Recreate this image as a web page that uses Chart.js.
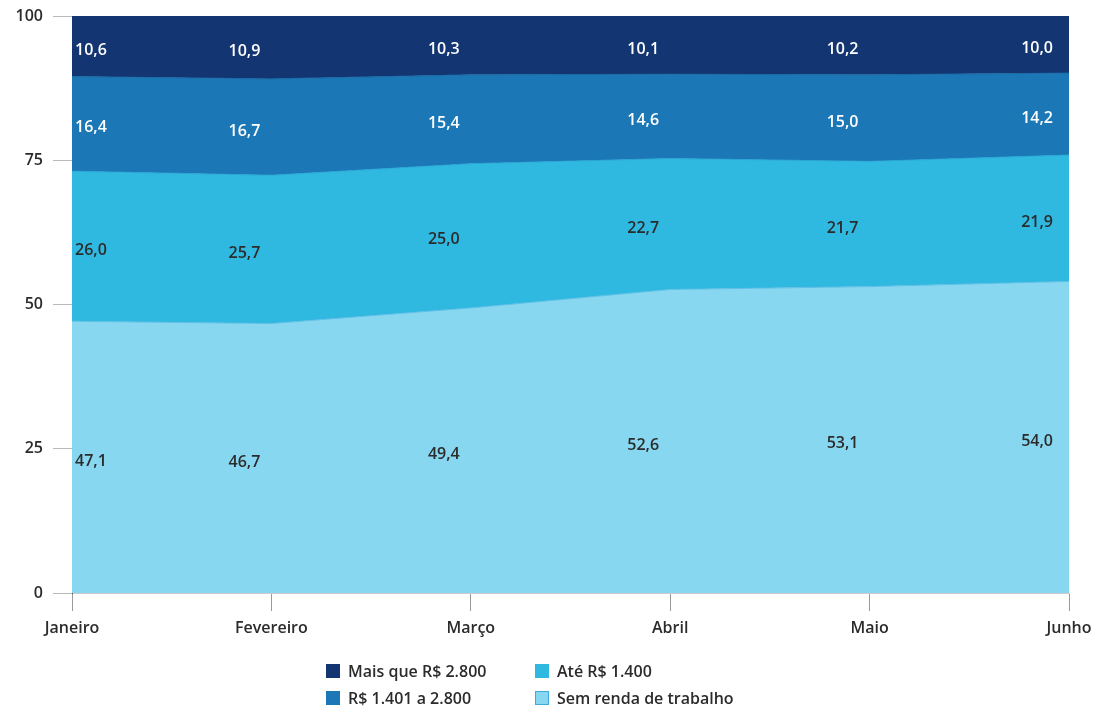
<!DOCTYPE html>
<html>
<head>
<meta charset="utf-8">
<script src="https://cdn.jsdelivr.net/npm/chart.js@4"></script>
<style>
  body { margin: 0; background: #fff; font-family: "Open Sans", sans-serif; }
  #wrap { position: relative; width: 1095px; height: 714px; }
  #legenda { position: absolute; left: 326px; top: 660px; display: grid; grid-template-columns: 209px 220px; row-gap: 5px; font-size: 16px; font-weight: 600; color: #2b2b2b; }
  #legenda span.item { display: flex; align-items: center; }
  #legenda i { display: inline-block; width: 14px; height: 14px; margin-right: 8px; box-sizing: border-box; }
</style>
</head>
<body>
<div id="wrap">
  <canvas id="grafico" width="1095" height="714"></canvas>
  <div id="legenda"></div>
</div>
<script>
const meses = ['Janeiro', 'Fevereiro', 'Março', 'Abril', 'Maio', 'Junho'];
const semRenda = [47.1, 46.7, 49.4, 52.6, 53.1, 54.0];
const ate1400 = [26.0, 25.7, 25.0, 22.7, 21.7, 21.9];
const de1401a2800 = [16.4, 16.7, 15.4, 14.6, 15.0, 14.2];
const maisQue2800 = [10.6, 10.9, 10.3, 10.1, 10.2, 10.0];
const ticksY = [0, 25, 50, 75, 100];

const series = [
  { label: 'Sem renda de trabalho', data: semRenda, cor: '#88d7f0', linha: '#5fbfe6', texto: '#2b2b2b' },
  { label: 'Até R$ 1.400', data: ate1400, cor: '#2fb9e0', linha: '#2aa6d6', texto: '#2b2b2b' },
  { label: 'R$ 1.401 a 2.800', data: de1401a2800, cor: '#1b77b5', linha: '#1a6aa6', texto: '#ffffff' },
  { label: 'Mais que R$ 2.800', data: maisQue2800, cor: '#133672', linha: '#133672', texto: '#ffffff' }
];

// rotulos no meio de cada faixa
const rotulos = {
  id: 'rotulos',
  afterDatasetsDraw(chart) {
    const ctx = chart.ctx;
    const base = chart.scales.y.getPixelForValue(0);
    ctx.save();
    ctx.textBaseline = 'middle';
    ctx.font = '600 16px "Open Sans"';
    chart.data.datasets.forEach((ds, i) => {
      const meta = chart.getDatasetMeta(i);
      const abaixo = i > 0 ? chart.getDatasetMeta(i - 1) : null;
      meta.data.forEach((pt, j) => {
        const y0 = abaixo ? abaixo.data[j].y : base;
        const y = (pt.y + y0) / 2 + 4;
        let x = pt.x;
        if (j === 0) { ctx.textAlign = 'left'; x += 3; }
        else if (j === meta.data.length - 1) { ctx.textAlign = 'right'; x -= 16; }
        else { ctx.textAlign = 'center'; x -= 27; }
        ctx.fillStyle = series[i].texto;
        ctx.fillText(ds.data[j].toFixed(1).replace('.', ','), x, y);
      });
    });
    ctx.restore();
  }
};

new Chart(document.getElementById('grafico'), {
  type: 'line',
  data: {
    labels: meses,
    datasets: series.map((s, i) => ({
      label: s.label,
      data: s.data,
      backgroundColor: s.cor,
      borderColor: s.linha,
      borderWidth: 1,
      pointRadius: 0,
      tension: 0,
      fill: i === 0 ? 'origin' : '-1'
    }))
  },
  options: {
    responsive: false,
    animation: false,
    layout: { padding: { top: 16, left: 0, right: 26, bottom: 71 } },
    scales: {
      x: {
        offset: false,
        grid: { color: '#999', tickLength: 18, drawOnChartArea: false },
        border: { color: '#ccc' },
        ticks: { color: '#2b2b2b', font: { family: 'Open Sans', size: 16, weight: '600' }, padding: 8, maxRotation: 0 },
        afterFit: s => { s.height = 50; s.paddingLeft = 0; s.paddingRight = 0; }
      },
      y: {
        stacked: true,
        min: 0,
        max: 100,
        afterBuildTicks: s => { s.ticks = ticksY.map(v => ({ value: v })); },
        grid: { color: '#bbb', tickLength: 19 },
        border: { color: '#555' },
        ticks: { color: '#2b2b2b', font: { family: 'Open Sans', size: 16, weight: '600' }, padding: 10 },
        afterFit: s => { s.width = 72; s.paddingTop = 0; s.paddingBottom = 0; }
      }
    },
    plugins: {
      legend: { display: false },
      tooltip: { enabled: false }
    }
  },
  plugins: [rotulos]
});

// legenda na mesma ordem do original
const ordem = [3, 1, 2, 0];
const leg = document.getElementById('legenda');
ordem.forEach(i => {
  const s = series[i];
  const el = document.createElement('span');
  el.className = 'item';
  const borda = i === 0 ? '1.5px solid #3fa9dd' : 'none';
  el.innerHTML = '<i style="background:' + s.cor + ';border:' + borda + '"></i>' + s.label;
  leg.appendChild(el);
});
</script>
</body>
</html>
